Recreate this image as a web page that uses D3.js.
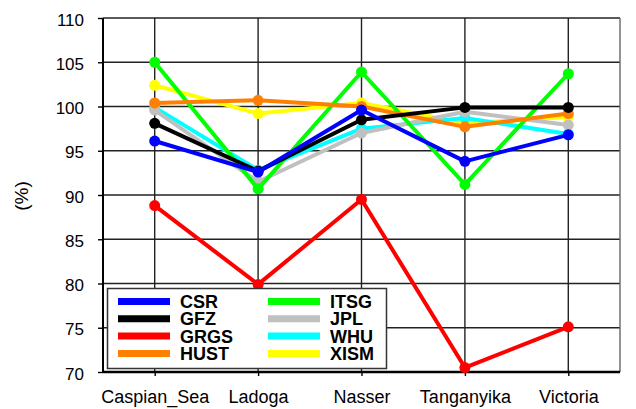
<!DOCTYPE html>
<html><head><meta charset="utf-8">
<script src="https://cdn.jsdelivr.net/npm/d3@7"></script>
<style>body{margin:0;background:#fff}svg{display:block}text{font-family:"Liberation Sans",Arial,sans-serif}</style>
</head><body><svg id="c" width="636" height="409"></svg>
<script>
const categories = ["Caspian_Sea","Ladoga","Nasser","Tanganyika","Victoria"];
const seriesNames = ["CSR","GFZ","GRGS","HUST","ITSG","JPL","WHU","XISM"];
const seriesColors = ["#0000ff","#000000","#ff0000","#ff8000","#00ff00","#c0c0c0","#00ffff","#ffff00"];
const CSR  = [96.1, 92.6, 99.6, 93.8, 96.8];
const GFZ  = [98.1, 92.7, 98.5, 99.9, 99.9];
const GRGS = [88.8, 79.9, 89.5, 70.5, 75.1];
const HUST = [100.4, 100.7, 100.0, 97.7, 99.2];
const ITSG = [105.0, 90.7, 103.9, 91.2, 103.7];
const JPL  = [99.6, 91.5, 97.0, 99.4, 97.9];
const WHU  = [99.9, 92.8, 97.5, 98.7, 96.9];
const XISM = [102.4, 99.2, 100.4, 98.1, 98.8];
const seriesValues = [CSR, GFZ, GRGS, HUST, ITSG, JPL, WHU, XISM];
const yTicks = [70,75,80,85,90,95,100,105,110];

const svg = d3.select("#c");
const L = 103, R = 620, T = 18, B = 372;
const x = d3.scalePoint().domain(categories).range([L, R]).padding(0.5);
const y = d3.scaleLinear().domain([70, 110]).range([B, T]);

// grid
const g = svg.append("g");
g.selectAll("line.h").data(yTicks).join("line")
  .attr("x1", L).attr("x2", R).attr("y1", d => y(d)).attr("y2", d => y(d))
  .attr("stroke", "#222").attr("stroke-width", 1.4);
g.selectAll("line.v").data(categories).join("line")
  .attr("x1", d => x(d)).attr("x2", d => x(d)).attr("y1", T).attr("y2", B)
  .attr("stroke", "#222").attr("stroke-width", 1.4);
g.append("line").attr("x1", R).attr("x2", R).attr("y1", T).attr("y2", B)
  .attr("stroke", "#666").attr("stroke-width", 1.4);

// axes
const ya = svg.append("g").attr("transform", `translate(${L},0)`)
  .call(d3.axisLeft(y).tickValues(yTicks).tickSize(5).tickPadding(14).tickFormat(d3.format("d")));
ya.select(".domain").attr("stroke", "#000").attr("stroke-width", 2).attr("d", `M0,${T}V${B}`);
ya.selectAll(".tick line").attr("stroke", "#000").attr("stroke-width", 1.4);
ya.selectAll(".tick text").attr("font-size", 17).attr("fill", "#000").attr("dy", "0.42em")
  .style("font-family", '"Liberation Sans",Arial,sans-serif');

const xa = svg.append("g").attr("transform", `translate(0,${B})`)
  .call(d3.axisBottom(x).tickSize(4).tickPadding(14));
xa.select(".domain").attr("stroke", "#000").attr("stroke-width", 2.5).attr("d", `M${L},0H${R}`);
xa.selectAll(".tick line").attr("stroke", "#000").attr("stroke-width", 1.4);
xa.selectAll(".tick text").attr("font-size", 18).attr("fill", "#000").attr("dy", "0.71em")
  .style("font-family", '"Liberation Sans",Arial,sans-serif');

svg.append("text").attr("transform", "translate(28,196) rotate(-90)")
  .attr("text-anchor", "middle").attr("font-size", 19).text("(%)");

// series (drawn in reverse order)
const line = d3.line().x((d, i) => x(categories[i])).y(d => y(d));
const order = d3.range(seriesNames.length).reverse();
order.forEach(k => {
  const sg = svg.append("g");
  sg.append("path").datum(seriesValues[k]).attr("d", line)
    .attr("fill", "none").attr("stroke", seriesColors[k]).attr("stroke-width", 4).attr("stroke-linejoin", "round");
  sg.selectAll("circle").data(seriesValues[k]).join("circle")
    .attr("cx", (d, i) => x(categories[i])).attr("cy", d => y(d)).attr("r", 5.5)
    .attr("fill", seriesColors[k]);
});

// legend
const lg = svg.append("g");
lg.append("rect").attr("x", 107.5).attr("y", 288.5).attr("width", 279).attr("height", 80)
  .attr("fill", "#fff").attr("stroke", "#333").attr("stroke-width", 1.5);
seriesNames.forEach((n, i) => {
  const col = Math.floor(i / 4), row = i % 4;
  const x0 = 118 + col * 150, yy = 301.5 + row * 17.3;
  lg.append("line").attr("x1", x0).attr("x2", x0 + 52).attr("y1", yy).attr("y2", yy)
    .attr("stroke", seriesColors[i]).attr("stroke-width", 7);
  lg.append("text").attr("x", x0 + 62).attr("y", yy).attr("dy", "0.36em")
    .attr("font-size", 18).attr("font-weight", "bold").text(n);
});
</script></body></html>
